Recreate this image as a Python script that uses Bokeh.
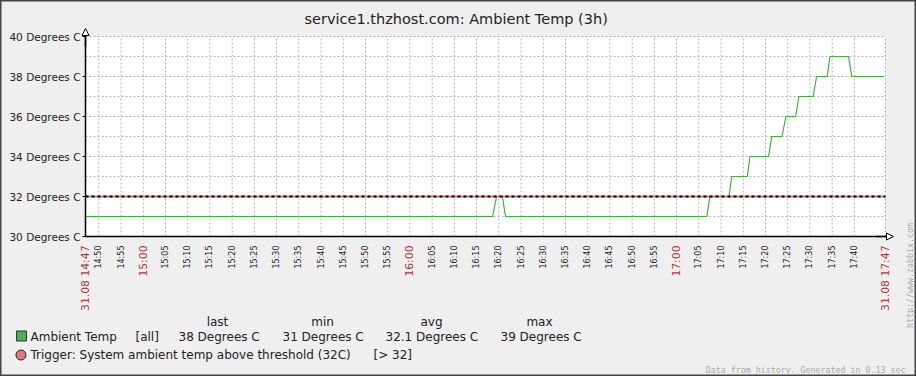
import math
from bokeh.plotting import figure
from bokeh.models import (FixedTicker, Label, Arrow, NormalHead, Range1d)
from bokeh.embed import file_html
from bokeh.resources import INLINE

# ---- data ----
title_text = "service1.thzhost.com: Ambient Temp  (3h)"
start_label = "31.08 14:47"
end_label = "31.08 17:47"
# minutes after 14:47
temp_minutes = [0, 91.6, 92.5, 93.8, 94.5, 139.8, 140.5, 144.8, 145.4, 148.9, 149.5,
                153.7, 154.4, 156.7, 157.6, 159.8, 160.5, 163.7, 164.5, 166.9, 167.5,
                171.7, 172.4, 179.7]
temp_values = [31, 31, 32, 32, 31, 31, 32, 32, 33, 33, 34,
               34, 35, 35, 36, 36, 37, 37, 38, 38, 39,
               39, 38, 38]
trigger_value = 32
y_min, y_max = 30, 40
t_end = 180
y_ticks = [30, 32, 34, 36, 38, 40]
y_labels = ["30 Degrees C", "32 Degrees C", "34 Degrees C", "36 Degrees C", "38 Degrees C", "40 Degrees C"]
y_grid = [31, 32, 33, 34, 35, 36, 37, 38, 39, 40]
x_tick_minutes = list(range(3, 174, 5))
x_tick_labels = ["14:50", "14:55", "15:00", "15:05", "15:10", "15:15", "15:20", "15:25", "15:30",
                 "15:35", "15:40", "15:45", "15:50", "15:55", "16:00", "16:05", "16:10", "16:15",
                 "16:20", "16:25", "16:30", "16:35", "16:40", "16:45", "16:50", "16:55", "17:00",
                 "17:05", "17:10", "17:15", "17:20", "17:25", "17:30", "17:35", "17:40"]
hour_labels = ["15:00", "16:00", "17:00"]
legend_headers = ["last", "min", "avg", "max"]
legend_item = "Ambient Temp"
legend_func = "[all]"
legend_stats = ["38 Degrees C", "31 Degrees C", "32.1 Degrees C", "39 Degrees C"]
trigger_text = "Trigger: System ambient temp above threshold (32C)"
trigger_cond = "[> 32]"
footer_text = "Data from history. Generated in 0.13 sec"
url_text = "http://www.zabbix.com"

# ---- layout constants (canvas pixels) ----
W, H = 916, 376
FL, FR, FT, FB = 85, 885, 36, 236
PX_X = (FR - FL) / t_end          # px per minute
PX_Y = (FB - FT) / (y_max - y_min)  # px per degree
FONT = "DejaVu Sans"
TXT = "#222222"
RED = "#B03A3A"
GRID = "#b4b4b4"


def dx(cx):
    return (cx - FL) / PX_X


def dy(cy):
    return y_min + (FB - cy) / PX_Y


def sx(cx):
    return cx


def sy(cy):
    return H - cy


p = figure(width=W, height=H, output_backend="svg", toolbar_location=None,
           x_range=Range1d(dx(0), dx(W)), y_range=Range1d(dy(H), dy(0)),
           min_border=0, min_border_left=0, min_border_right=0, min_border_top=0,
           min_border_bottom=0)
p.background_fill_color = "#efefef"
p.border_fill_color = "#efefef"
p.outline_line_color = "#444444"
p.outline_line_width = 2
p.xgrid.visible = False
p.ygrid.visible = False

# white plot area
p.quad(left=[0], right=[t_end], bottom=[y_min], top=[y_max], fill_color="white", line_color=None)

# grid lines
gx = x_tick_minutes + [t_end]
p.segment(x0=gx, x1=gx, y0=[y_min] * len(gx), y1=[y_max] * len(gx), line_color=GRID,
          line_dash="2 2", line_width=1)
p.segment(x0=[0] * len(y_grid), x1=[t_end] * len(y_grid), y0=y_grid, y1=y_grid,
          line_color=GRID, line_dash="2 2", line_width=1)

# y axis
p.yaxis.fixed_location = 0
p.yaxis.bounds = (y_min, y_max)
p.yaxis.ticker = FixedTicker(ticks=y_ticks)
p.yaxis.major_label_overrides = {t: l for t, l in zip(y_ticks, y_labels)}
p.yaxis.major_label_text_font = FONT
p.yaxis.major_label_text_font_size = "10.5px"
p.yaxis.major_label_text_color = TXT
p.yaxis.major_tick_in = 0
p.yaxis.major_tick_out = 3
p.yaxis.major_label_standoff = 2
p.yaxis.minor_tick_line_color = None
p.yaxis.axis_line_color = "black"
p.yaxis.axis_line_width = 1.5

# x axis
p.xaxis.fixed_location = y_min
p.xaxis.bounds = (0, t_end)
p.xaxis.ticker = FixedTicker(ticks=x_tick_minutes)
p.xaxis.major_label_overrides = {t: ("" if l in hour_labels else l)
                                 for t, l in zip(x_tick_minutes, x_tick_labels)}
p.xaxis.major_label_orientation = math.pi / 2
p.xaxis.major_label_text_font = FONT
p.xaxis.major_label_text_font_size = "8px"
p.xaxis.major_label_text_color = TXT
p.xaxis.major_tick_in = 0
p.xaxis.major_tick_out = 0
p.xaxis.major_label_standoff = 9
p.xaxis.minor_tick_line_color = None
p.xaxis.axis_line_color = "black"
p.xaxis.axis_line_width = 1.5

# red tick labels
red_x = [t for t, l in zip(x_tick_minutes, x_tick_labels) if l in hour_labels] + [0, t_end]
red_t = [l for l in x_tick_labels if l in hour_labels] + [start_label, end_label]
p.text(x=red_x, y=[dy(245)] * len(red_x), text=red_t, angle=math.pi / 2,
       text_align="right", text_baseline="middle", text_font={"value": FONT},
       text_font_size="10.8px", text_color=RED)

# data line
p.line(temp_minutes, temp_values, line_color="#3CB43C", line_width=1.2)

# trigger line
p.line([0, t_end], [trigger_value, trigger_value], line_color="#E07B7B", line_width=2)
p.line([0, t_end], [trigger_value, trigger_value], line_color="black", line_width=2,
       line_dash="3 3")

# axis arrows
p.add_layout(Arrow(end=NormalHead(size=7, fill_color="white", line_color="black", line_width=1),
                   x_start=0, y_start=y_max - 0.5, x_end=0, y_end=dy(28), line_color="black",
                   line_width=1.5))
p.add_layout(Arrow(end=NormalHead(size=7, fill_color="white", line_color="black", line_width=1),
                   x_start=t_end - 2, y_start=y_min, x_end=dx(893), y_end=y_min,
                   line_color="black", line_width=1.5))

# title
p.add_layout(Label(x=sx(458), y=sy(18), x_units="screen", y_units="screen", text=title_text,
                   text_align="center", text_baseline="middle", text_font=FONT,
                   text_font_size="14.5px", text_color=TXT))

# legend headers
for cx, t in zip([217, 322, 431, 539], legend_headers):
    p.add_layout(Label(x=sx(cx), y=sy(321), x_units="screen", y_units="screen", text=t,
                       text_align="center", text_baseline="middle", text_font=FONT,
                       text_font_size="12px", text_color=TXT))

# legend row 1
p.scatter(x=[dx(21)], y=[dy(335.5)], marker="square", size=10, fill_color="#4CAF50",
          line_color="#333333", line_width=1)
for cx, t in zip([30, 135, 178, 282, 385, 500], [legend_item, legend_func] + legend_stats):
    p.add_layout(Label(x=sx(cx), y=sy(336), x_units="screen", y_units="screen", text=t,
                       text_align="left", text_baseline="middle", text_font=FONT,
                       text_font_size="12px", text_color=TXT))

# legend row 2
p.scatter(x=[dx(20.5)], y=[dy(354.5)], marker="circle", size=10, fill_color="#E07B7B",
          line_color="#222222", line_width=1)
for cx, t in zip([30, 373], [trigger_text, trigger_cond]):
    p.add_layout(Label(x=sx(cx), y=sy(354), x_units="screen", y_units="screen", text=t,
                       text_align="left", text_baseline="middle", text_font=FONT,
                       text_font_size="12px", text_color=TXT))

# footer and url
p.add_layout(Label(x=sx(905), y=sy(369), x_units="screen", y_units="screen", text=footer_text,
                   text_align="right", text_baseline="middle", text_font="DejaVu Sans Mono",
                   text_font_size="8.3px", text_color="#aaaaaa"))
p.add_layout(Label(x=sx(909), y=sy(275), x_units="screen", y_units="screen", text=url_text,
                   angle=math.pi / 2, text_align="center", text_baseline="middle",
                   text_font="DejaVu Sans Mono", text_font_size="8.3px", text_color="#aaaaaa"))

open("out.html", "w").write(file_html(p, INLINE))
